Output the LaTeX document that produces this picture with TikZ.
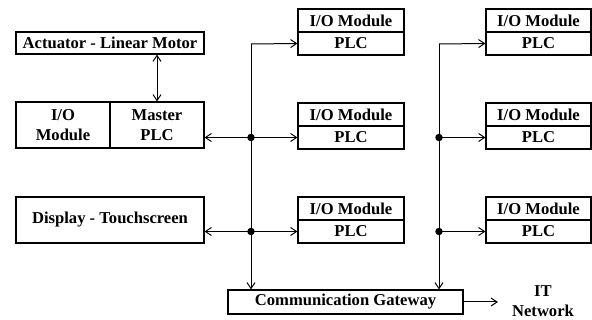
\documentclass[tikz,border=0pt]{standalone}
\usepackage{fontspec}
\setmainfont{Liberation Serif}
\usetikzlibrary{arrows.meta}
\begin{document}
\begin{tikzpicture}[x=1pt,y=-1pt,
  every node/.style={font=\fontsize{16.6}{19.5}\selectfont\bfseries, inner sep=0pt, align=center},
  box/.style={draw, line width=1.1pt},
  half/.style={box, minimum width=106pt, minimum height=23pt},
  link/.style={line width=1pt, >={Straight Barb[length=6pt,width=8pt]}},
  dot/.style={circle, fill, inner sep=0pt, minimum size=7.5pt}
]
\useasboundingbox (0,0) rectangle (592,320);
% left column
\node[box, minimum width=188pt, minimum height=22pt] (act) at (110,43) {Actuator - Linear Motor};
\node[box, minimum width=94pt, minimum height=46pt] (mio) at (63,125) {I/O\\Module};
\node[box, minimum width=94pt, minimum height=46pt] (mpl) at (157,125) {Master\\PLC};
\node[box, minimum width=188pt, minimum height=46pt] (disp) at (110,220) {Display - Touchscreen};
% middle column modules
\node[half] (m1t) at (351,20.5) {I/O Module};
\node[half] (m1b) at (351,43.5) {PLC};
\node[half] (m2t) at (351,114.5) {I/O Module};
\node[half] (m2b) at (351,137.5) {PLC};
\node[half] (m3t) at (351,208.5) {I/O Module};
\node[half] (m3b) at (351,231.5) {PLC};
% right column modules
\node[half, minimum width=105pt] (r1t) at (538.5,20.5) {I/O Module};
\node[half, minimum width=105pt] (r1b) at (538.5,43.5) {PLC};
\node[half, minimum width=105pt] (r2t) at (538.5,114.5) {I/O Module};
\node[half, minimum width=105pt] (r2b) at (538.5,137.5) {PLC};
\node[half, minimum width=105pt] (r3t) at (538.5,208.5) {I/O Module};
\node[half, minimum width=105pt] (r3b) at (538.5,231.5) {PLC};
% gateway
\node[box, minimum width=235pt, minimum height=24pt] (gw) at (345.5,302) {Communication Gateway};
\node[inner xsep=14pt] (it) at (543,301) {IT\\Network};
% bus coordinates
\coordinate (b1) at (251,44);
\coordinate (b2) at (439,44);
% connectors
\draw[link,<->] (mpl.north |- act.south) -- (mpl.north);
\draw[link,->] (b1) -- (m1b.west);
\draw[link,->] (b1) -- (b1 |- gw.north);
\draw[link,<->] (mpl.east |- m2b.west) -- (m2b.west);
\draw[link,<->] (disp.east |- m3b.west) -- (m3b.west);
\draw[link,->] (b2) -- (r1b.west);
\draw[link,->] (b2) -- (b2 |- gw.north);
\draw[link,->] (b2 |- r2b.west) -- (r2b.west);
\draw[link,->] (b2 |- r3b.west) -- (r3b.west);
\draw[link,->] (gw.east) -- (gw.east -| it.west);
% junction dots
\node[dot] (d1) at (b1 |- m2b.west) {};
\node[dot] (d2) at (b1 |- m3b.west) {};
\node[dot] (d3) at (b2 |- r2b.west) {};
\node[dot] (d4) at (b2 |- r3b.west) {};
\end{tikzpicture}
\end{document}
